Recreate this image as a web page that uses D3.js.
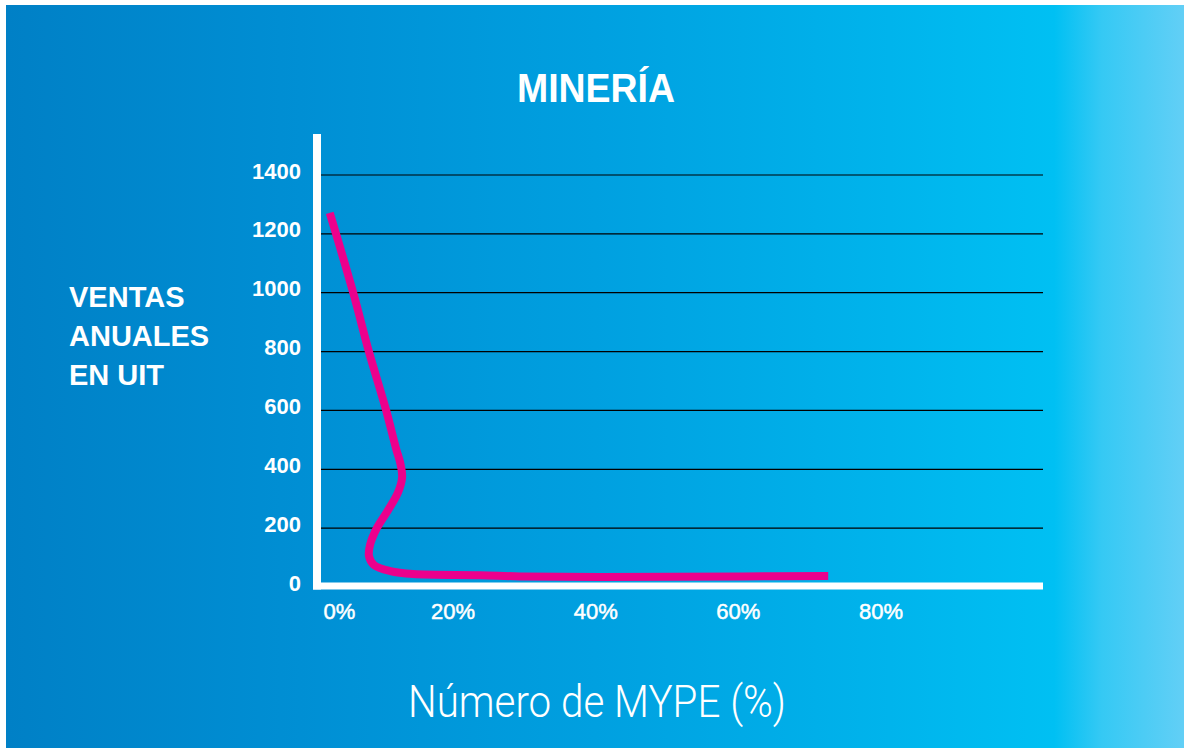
<!DOCTYPE html>
<html>
<head>
<meta charset="utf-8">
<script src="https://cdn.jsdelivr.net/npm/d3@7"></script>
<style>
  html, body { margin: 0; padding: 0; background: #ffffff; }
  svg { display: block; }
</style>
</head>
<body>
<svg id="chart" width="1184" height="749"></svg>
<script>
// ---- data ----
const title = "MINERÍA";
const yTitleLines = ["VENTAS", "ANUALES", "EN UIT"];
const xTitle = "Número de MYPE (%)";
const yTicks = [0, 200, 400, 600, 800, 1000, 1200, 1400];
const xTicks = [0, 20, 40, 60, 80];
const xTickLabels = ["0%", "20%", "40%", "60%", "80%"];
// curve: share of MYPE (%) vs annual sales (UIT), in drawing order
const curvePct = [2.7, 6.0, 8.2, 10.6, 12.0, 12.6, 12.85, 12.3, 10.9, 9.3, 8.35, 8.2, 8.9, 11.2, 14.4, 23.8, 29.4, 40.6, 60.7, 72.6];
const curveUIT = [1271, 999, 799, 601, 470, 420, 374, 323, 262, 200, 143, 105, 75, 54, 44, 40, 36, 34, 36, 37];

// ---- layout ----
const W = 1184, H = 749;
const svg = d3.select("#chart");

// background gradient
const defs = svg.append("defs");
const grad = defs.append("linearGradient").attr("id", "bg").attr("x1", "0").attr("x2", "1").attr("y1", "0").attr("y2", "0");
[[0, "#0080c6"], [0.25, "#008fd4"], [0.5, "#00a0e0"], [0.75, "#00b4ec"], [0.89, "#00c0f3"], [0.93, "#35c9f4"], [1, "#62cff6"]]
  .forEach(([o, c]) => grad.append("stop").attr("offset", o).attr("stop-color", c));
svg.append("rect").attr("x", 6).attr("y", 5).attr("width", W - 6).attr("height", 743).attr("fill", "url(#bg)");

const plotLeft = 317, plotRight = 1043;
const y = d3.scaleLinear().domain([0, 1400]).range([587, 175]);
const x = d3.scaleLinear().domain([0, 80]).range([310.5, 881]);

// gridlines
svg.append("g").selectAll("line").data(yTicks.filter(d => d > 0)).join("line")
  .attr("x1", plotLeft + 4).attr("x2", plotRight)
  .attr("y1", d => y(d)).attr("y2", d => y(d))
  .attr("stroke", "#000").attr("stroke-width", 1.2);

// axes (white thick)
svg.append("line").attr("x1", plotLeft).attr("x2", plotLeft).attr("y1", 134).attr("y2", y(0) + 2.5)
  .attr("stroke", "#fff").attr("stroke-width", 8);
svg.append("line").attr("x1", plotLeft - 4).attr("x2", plotRight).attr("y1", y(0) - 1).attr("y2", y(0) - 1)
  .attr("stroke", "#fff").attr("stroke-width", 7);

// y tick labels
svg.append("g").selectAll("text").data(yTicks).join("text")
  .attr("x", 301).attr("y", d => y(d) + 3.5)
  .attr("text-anchor", "end")
  .attr("font-family", "Liberation Sans, Arial, sans-serif").attr("font-weight", "bold").attr("font-size", 22)
  .attr("fill", "#fff").text(d => d);

// x tick labels
svg.append("g").selectAll("text").data(xTicks).join("text")
  .attr("x", (d, i) => x(d) + (d === 0 ? 29 : 0)).attr("y", 619)
  .attr("text-anchor", "middle")
  .attr("font-family", "Liberation Sans, Arial, sans-serif").attr("font-size", 22)
  .attr("fill", "#fff").attr("stroke", "#fff").attr("stroke-width", 0.5)
  .text((d, i) => xTickLabels[i]);

// curve
const pts = curvePct.map((p, i) => [p, curveUIT[i]]);
const line = d3.line().x(d => x(d[0])).y(d => y(d[1])).curve(d3.curveCatmullRom.alpha(0.5));
svg.append("path").attr("d", line(pts)).attr("fill", "none")
  .attr("stroke", "#ec008c").attr("stroke-width", 8).attr("stroke-linecap", "butt").attr("stroke-linejoin", "round");

// title
svg.append("text").attr("x", 596).attr("y", 102).attr("text-anchor", "middle")
  .attr("font-family", "Liberation Sans, Arial, sans-serif").attr("font-weight", "bold").attr("font-size", 41)
  .attr("textLength", 158).attr("lengthAdjust", "spacingAndGlyphs")
  .attr("fill", "#fff").text(title);

// y title
svg.append("g").selectAll("text").data(yTitleLines).join("text")
  .attr("x", 69).attr("y", (d, i) => 307 + i * 39)
  .attr("font-family", "Liberation Sans, Arial, sans-serif").attr("font-weight", "bold").attr("font-size", 29)
  .attr("fill", "#fff").text(d => d);

// x title
svg.append("text").attr("x", 597).attr("y", 717).attr("text-anchor", "middle")
  .attr("font-family", "Roboto, sans-serif").attr("font-weight", 300).attr("font-size", 44)
  .attr("textLength", 378).attr("lengthAdjust", "spacingAndGlyphs")
  .attr("fill", "#fff").text(xTitle);
</script>
</body>
</html>
